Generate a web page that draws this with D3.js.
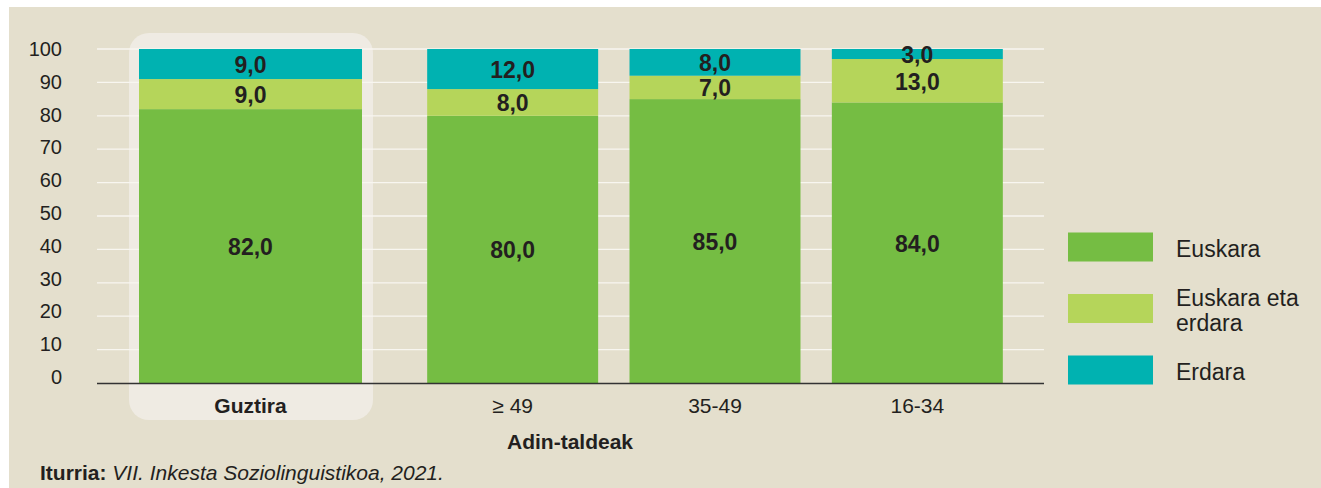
<!DOCTYPE html>
<html>
<head>
<meta charset="utf-8">
<script src="https://cdn.jsdelivr.net/npm/d3@7.9.0/dist/d3.min.js"></script>
<style>
  html, body { margin: 0; padding: 0; background: #fff; }
  svg { display: block; font-family: "Liberation Sans", Arial, sans-serif; }
</style>
</head>
<body>
<svg id="chart" width="1321" height="488"></svg>
<script>
// --- data ---
const totalCategory = ['Guztira'];
const ageGroups = ['≥ 49', '35-49', '16-34'];
const categories = [...totalCategory, ...ageGroups];
const seriesNames = ['Euskara', 'Euskara eta erdara', 'Erdara'];
const euskara = [82, 80, 85, 84];
const both = [9, 8, 7, 13];
const erdara = [9, 12, 8, 3];
const yTicks = [0, 10, 20, 30, 40, 50, 60, 70, 80, 90, 100];
const xTitle = 'Adin-taldeak';
const sourceLabel = 'Iturria:';
const sourceText = 'VII. Inkesta Soziolinguistikoa, 2021.';

const colors = ['#75bd43', '#b5d55a', '#00b2b1'];
const textColor = '#231f20';

const svg = d3.select('#chart');

// background (thin white margin top/left as in original)
svg.append('rect')
  .attr('x', 9).attr('y', 7)
  .attr('width', 1321 - 9).attr('height', 488 - 7)
  .attr('fill', '#e4dfcd');

// scales
const y = d3.scaleLinear().domain([0, 100]).range([383, 49]);
const yLabel = d3.scaleLinear().domain([0, 100]).range([377, 49]);

const xTotal = d3.scaleBand().domain(totalCategory).range([139, 362]);
const xAge = d3.scaleBand().domain(ageGroups).range([411.5, 1018.5])
  .paddingInner(0.155).paddingOuter(0.0775);

function xPos(c) { return totalCategory.includes(c) ? xTotal(c) : xAge(c); }
function xWidth(c) { return totalCategory.includes(c) ? xTotal.bandwidth() : xAge.bandwidth(); }

// highlight box behind Guztira
svg.append('rect')
  .attr('x', xTotal.range()[0] - 10)
  .attr('y', 33)
  .attr('width', xTotal.bandwidth() + 21)
  .attr('height', 420 - 33)
  .attr('rx', 20).attr('ry', 20)
  .attr('fill', '#efebe3');

// gridlines
svg.append('g')
  .selectAll('line')
  .data(yTicks.filter(d => d > 0))
  .join('line')
  .attr('x1', 97).attr('x2', 1044)
  .attr('y1', d => y(d)).attr('y2', d => y(d))
  .attr('stroke', '#f8f6f0')
  .attr('stroke-width', 1.3);

// y tick labels
svg.append('g')
  .selectAll('text')
  .data(yTicks)
  .join('text')
  .attr('x', 62)
  .attr('y', d => yLabel(d))
  .attr('text-anchor', 'end')
  .attr('dominant-baseline', 'central')
  .attr('font-size', 20)
  .attr('fill', textColor)
  .text(d => d);

// stack
const rows = categories.map((c, i) => ({
  category: c,
  'Euskara': euskara[i],
  'Euskara eta erdara': both[i],
  'Erdara': erdara[i]
}));
const stacked = d3.stack().keys(seriesNames)(rows);

const layers = svg.append('g')
  .selectAll('g')
  .data(stacked)
  .join('g')
  .attr('fill', (d, i) => colors[i]);

layers.selectAll('rect')
  .data(d => d)
  .join('rect')
  .attr('x', d => xPos(d.data.category))
  .attr('width', d => xWidth(d.data.category))
  .attr('y', d => y(d[1]))
  .attr('height', d => y(d[0]) - y(d[1]));

// value labels
const fmt = v => d3.format('.1f')(v).replace('.', ',');
svg.append('g')
  .selectAll('g')
  .data(stacked)
  .join('g')
  .selectAll('text')
  .data(d => d.map(s => ({ s, key: d.key })))
  .join('text')
  .attr('x', d => xPos(d.s.data.category) + xWidth(d.s.data.category) / 2)
  .attr('y', d => y((d.s[0] + d.s[1]) / 2) + 1)
  .attr('text-anchor', 'middle')
  .attr('dominant-baseline', 'central')
  .attr('font-size', 23)
  .attr('font-weight', 'bold')
  .attr('fill', textColor)
  .text(d => fmt(d.s.data[d.key]));

// x axis line
svg.append('line')
  .attr('x1', 97).attr('x2', 1044)
  .attr('y1', y(0) + 0.5).attr('y2', y(0) + 0.5)
  .attr('stroke', '#333')
  .attr('stroke-width', 1.3);

// x labels
svg.append('g')
  .selectAll('text')
  .data(categories)
  .join('text')
  .attr('x', c => xPos(c) + xWidth(c) / 2)
  .attr('y', 405)
  .attr('text-anchor', 'middle')
  .attr('dominant-baseline', 'central')
  .attr('font-size', 21)
  .attr('font-weight', c => totalCategory.includes(c) ? 'bold' : 'normal')
  .attr('fill', textColor)
  .text(c => c);

// x title
svg.append('text')
  .attr('x', 570).attr('y', 441)
  .attr('text-anchor', 'middle')
  .attr('dominant-baseline', 'central')
  .attr('font-size', 21)
  .attr('font-weight', 'bold')
  .attr('fill', textColor)
  .text(xTitle);

// legend
const legendLines = [['Euskara'], ['Euskara eta', 'erdara'], ['Erdara']];
const legendY = d3.scalePoint().domain(seriesNames).range([247, 370]);
const legend = svg.append('g')
  .selectAll('g')
  .data(seriesNames)
  .join('g')
  .attr('transform', d => `translate(1068,${legendY(d)})`);

legend.append('rect')
  .attr('x', 0).attr('y', -14.5)
  .attr('width', 85).attr('height', 29)
  .attr('fill', (d, i) => colors[i]);

legend.append('text')
  .attr('x', 108)
  .attr('font-size', 23)
  .attr('fill', textColor)
  .each(function (d, i) {
    const lines = legendLines[i];
    const t = d3.select(this);
    lines.forEach((ln, j) => {
      t.append('tspan')
        .attr('x', 108)
        .attr('y', (j - (lines.length - 1) / 2) * 25 + 2)
        .attr('dominant-baseline', 'central')
        .text(ln);
    });
  });

// source
const src = svg.append('text')
  .attr('x', 40).attr('y', 472)
  .attr('dominant-baseline', 'central')
  .attr('font-size', 21)
  .attr('fill', textColor);
src.append('tspan').attr('font-weight', 'bold').text(sourceLabel + ' ');
src.append('tspan').attr('font-style', 'italic').text(sourceText);
</script>
</body>
</html>
